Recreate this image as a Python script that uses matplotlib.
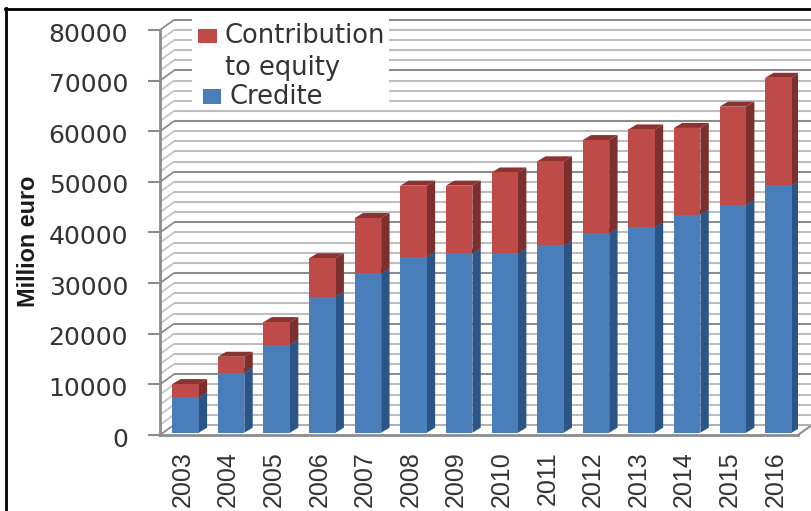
import matplotlib
matplotlib.use('Agg')
import matplotlib.pyplot as plt
from matplotlib.lines import Line2D
from matplotlib.patches import Polygon, Rectangle
from matplotlib.transforms import ScaledTranslation

## Chart data
years = ['2003', '2004', '2005', '2006', '2007', '2008', '2009',
         '2010', '2011', '2012', '2013', '2014', '2015', '2016']
credite = [7000, 11850, 17400, 26900, 31500, 34800, 35400,
           35400, 37000, 39400, 40600, 43100, 45000, 48900]
equity = [2600, 3150, 4450, 7550, 10900, 14000, 13400,
          16000, 16600, 18400, 19300, 17100, 19400, 21200]
y_ticks = [0, 10000, 20000, 30000, 40000, 50000, 60000, 70000, 80000]
minor_step = 2000

W, H = 812, 511

## 3D look: wall and bar depth in data units
wall_dx, wall_dy = 0.307, minor_step
bar_width, bar_dx, bar_dy = 0.58, 0.184, 990
bar_lift = 455

BLUE = ('#4a7ebb', '#2c5587', '#2c5587')
RED = ('#be4b48', '#7d2f2d', '#8c3230')
MINOR = '#bdbdbd'
MAJOR = '#8c8c8c'
TEXT = '#333333'

fig = plt.figure(figsize=(W / 100, H / 100), dpi=100)
ax = fig.add_axes([160 / W, (H - 435) / H, 638 / W, 405 / H])
ax.set_xlim(-0.559, 13.43)
ax.set_ylim(0, 80000)
for s in ax.spines.values():
    s.set_visible(False)
ax.patch.set_visible(False)


def px(x, y):
    return x / W, 1 - y / H


## Side wall and back wall grid
for v in range(0, 80001, minor_step):
    c = MAJOR if v % 10000 == 0 else MINOR
    ax.plot([-0.559, -0.559 + wall_dx], [v, v + wall_dy], color=c if v % 10000 == 0 else '#c4c4c4',
            lw=1.3, clip_on=False, zorder=1, solid_capstyle='butt')
    if v > 0:
        ax.plot([-0.559 + wall_dx, 14], [v + wall_dy, v + wall_dy], color=c,
                lw=1.5, clip_on=False, zorder=1, solid_capstyle='butt')

## Floor outline
ax.plot([13.43, 13.74], [0, wall_dy], color=MAJOR, lw=1.5, clip_on=False, zorder=1)
ax.plot([-0.559 + wall_dx, 13.74], [wall_dy, wall_dy], color='#a8a8a8', lw=1.3, clip_on=False, zorder=1)


def box_faces(x, low, high, colors):
    r = x + bar_width / 2
    l = x - bar_width / 2
    side = Polygon([(r, low), (r + bar_dx, low + bar_dy), (r + bar_dx, high + bar_dy), (r, high)],
                   facecolor=colors[1], edgecolor='none', zorder=3)
    top = Polygon([(l, high), (l + bar_dx, high + bar_dy), (r + bar_dx, high + bar_dy), (r, high)],
                  facecolor=colors[2], edgecolor='none', zorder=3)
    ax.add_patch(side)
    ax.add_patch(top)


## Stacked bars with their side and top faces
for i in range(len(years)):
    b0 = bar_lift
    b1 = b0 + credite[i]
    b2 = b1 + equity[i]
    box_faces(i, b0, b1, BLUE)
    box_faces(i, b1, b2, RED)
    ax.bar(i, credite[i], bottom=b0, width=bar_width, color=BLUE[0], zorder=4)
    ax.bar(i, equity[i], bottom=b1, width=bar_width, color=RED[0], zorder=4)

## Front axis lines
ax.plot([-0.559, -0.559], [0, 80000], color=MAJOR, lw=2, clip_on=False, zorder=2)
ax.plot([-0.559, 13.43], [0, 0], color=MAJOR, lw=2, clip_on=False, zorder=5)

ax.set_yticks(y_ticks)
ax.set_yticklabels([str(v) for v in y_ticks], fontsize=18, color=TEXT, family='DejaVu Sans')
ax.tick_params(axis='y', length=8.6, width=1.5, color=MAJOR, pad=14.4)
for lbl in ax.get_yticklabels():
    lbl.set_transform(lbl.get_transform() + ScaledTranslation(0, -2 / 100, fig.dpi_scale_trans))

ax.set_xticks([])
for i, year in enumerate(years):
    ax.annotate(year, xy=(i, 0), xytext=(-2.2, -11.5), textcoords='offset points',
                rotation=90, ha='center', va='top', fontsize=18, color=TEXT,
                family='Liberation Sans')

fig.text(*px(29, 241), 'Million euro', rotation=90, ha='center', va='center',
         fontsize=16.8, fontweight='bold', color='#1a1a1a', family='Liberation Sans')

## Legend box
fig.add_artist(Rectangle(px(192, 108), 197 / W, 90 / H, transform=fig.transFigure,
                         facecolor='white', edgecolor='none', zorder=6))
fig.add_artist(Rectangle(px(198, 43), 19 / W, 14 / H, transform=fig.transFigure,
                         facecolor=RED[0], edgecolor='none', zorder=7))
fig.add_artist(Rectangle(px(203, 104), 18 / W, 15 / H, transform=fig.transFigure,
                         facecolor=BLUE[0], edgecolor='none', zorder=7))
fig.text(*px(225, 43), 'Contribution', fontsize=18.5, color=TEXT, va='baseline', zorder=8)
fig.text(*px(225, 75), 'to equity', fontsize=18.5, color=TEXT, va='baseline', zorder=8)
fig.text(*px(230, 104), 'Credite', fontsize=18.5, color=TEXT, va='baseline', zorder=8)

## Black frame
fig.add_artist(Line2D([6 / W, 6 / W], [0, 1 - 8 / H], color='black', lw=2, transform=fig.transFigure, zorder=9))
fig.add_artist(Line2D([5 / W, 1], [1 - 9 / H, 1 - 9 / H], color='black', lw=2, transform=fig.transFigure, zorder=9))

fig.savefig('out.png', dpi=100)
